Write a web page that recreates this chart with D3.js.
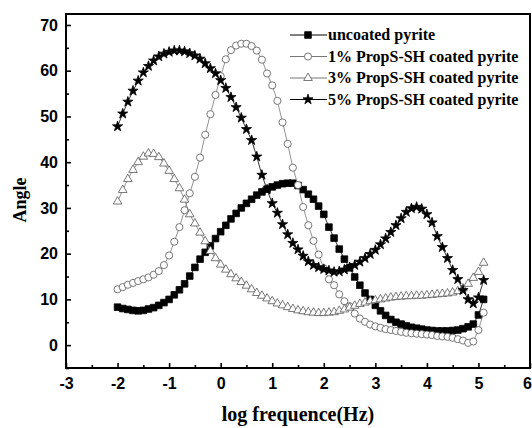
<!DOCTYPE html>
<html>
<head>
<meta charset="utf-8">
<script src="https://cdn.jsdelivr.net/npm/d3@7"></script>
<style>
  body { margin: 0; background: #fff; }
  svg { display: block; }
</style>
</head>
<body>
<div id="chart-view"></div>
<script>
const logF = [
    -2.0, -1.9, -1.8, -1.7, -1.6, -1.5, -1.4, -1.3, -1.2, -1.1,
    -1.0, -0.9, -0.8, -0.7, -0.6, -0.5, -0.4, -0.3, -0.2, -0.1,
    0.0, 0.1, 0.2, 0.3, 0.4, 0.5, 0.6, 0.7, 0.8, 0.9,
    1.0, 1.1, 1.2, 1.3, 1.4, 1.5, 1.6, 1.7, 1.8, 1.9,
    2.0, 2.1, 2.2, 2.3, 2.4, 2.5, 2.6, 2.7, 2.8, 2.9,
    3.0, 3.1, 3.2, 3.3, 3.4, 3.5, 3.6, 3.7, 3.8, 3.9,
    4.0, 4.1, 4.2, 4.3, 4.4, 4.5, 4.6, 4.7, 4.8, 4.9,
    5.0, 5.1
];

const uncoated = [
    8.3, 8.0, 7.8, 7.6, 7.5, 7.6, 7.9, 8.2, 8.7, 9.3,
    10.0, 11.0, 12.1, 13.4, 15.1, 17.0, 18.8, 20.3, 21.7, 23.3,
    24.8, 26.2, 27.6, 28.8, 30.0, 31.0, 31.9, 32.8, 33.5, 34.1,
    34.6, 35.0, 35.3, 35.4, 35.4, 34.9, 34.0, 33.0, 31.9, 30.4,
    28.6, 25.8, 23.4, 21.0, 18.8, 16.9, 14.9, 13.1, 11.4, 10.0,
    8.7, 7.5, 6.5, 5.6, 5.0, 4.6, 4.2, 3.9, 3.7, 3.5,
    3.3, 3.2, 3.1, 3.1, 3.1, 3.2, 3.3, 3.6, 4.0, 4.6,
    6.6, 10.0
];

const pct1 = [
    12.2, 12.7, 13.2, 13.6, 14.0, 14.4, 14.8, 15.4, 16.2, 17.5,
    19.6, 22.6, 25.8, 29.5, 33.2, 36.8, 41.0, 46.0, 50.5, 54.7,
    58.8, 62.5, 64.5, 65.5, 65.9, 65.9, 65.4, 64.4, 62.4, 59.4,
    56.8, 53.4, 48.7, 44.0, 38.8, 35.0, 30.2, 26.2, 22.8, 19.8,
    16.8, 14.4, 13.1, 11.1, 9.6, 8.5, 6.9, 5.8, 5.1, 4.5,
    4.1, 3.8, 3.5, 3.3, 3.1, 2.9, 2.7, 2.6, 2.5, 2.4,
    2.3, 2.2, 2.0, 1.9, 1.8, 1.6, 1.3, 1.0, 0.5, 0.8,
    3.3, 7.1
];

const pct3 = [
    31.4, 33.9, 36.3, 38.3, 40.0, 41.2, 41.9, 41.8, 41.1, 39.7,
    38.1, 36.3, 34.3, 31.8, 28.6, 26.6, 24.6, 22.7, 20.6, 19.0,
    17.6, 16.5, 15.5, 14.6, 13.8, 13.0, 12.2, 11.4, 10.8, 10.2,
    9.6, 9.1, 8.7, 8.3, 7.9, 7.6, 7.4, 7.2, 7.1, 7.0,
    7.0, 7.1, 7.2, 7.5, 7.8, 8.2, 8.6, 9.0, 9.3, 9.6,
    9.8, 10.0, 10.2, 10.4, 10.5, 10.6, 10.7, 10.7, 10.8, 10.8,
    10.9, 11.0, 11.1, 11.2, 11.3, 11.5, 11.8, 12.4, 13.4, 14.7,
    16.0, 18.0
];

const pct5 = [
    47.8, 50.6, 53.2, 55.6, 57.8, 59.6, 61.0, 62.2, 63.1, 63.7,
    64.1, 64.4, 64.4, 64.2, 63.8, 63.3, 62.6, 61.6, 60.5, 59.4,
    57.9, 56.2, 54.2, 52.0, 49.7, 47.2, 44.8, 41.2, 37.2, 34.0,
    31.0, 28.9, 26.4, 24.2, 22.3, 20.9, 19.5, 18.3, 17.5, 17.0,
    16.6, 16.3, 16.0, 16.1, 16.5, 17.0, 17.5, 18.2, 19.0, 19.9,
    20.8, 22.0, 23.3, 24.7, 26.2, 27.7, 29.1, 29.9, 30.2, 29.8,
    28.6, 26.8, 23.8, 21.4, 19.0, 16.4, 14.4, 12.0, 10.0, 9.1,
    10.4, 14.2
];

const seriesNames = [
    "uncoated pyrite",
    "1% PropS-SH coated pyrite",
    "3% PropS-SH coated pyrite",
    "5% PropS-SH coated pyrite",
];

const xTicks = [-3, -2, -1, 0, 1, 2, 3, 4, 5, 6];
const yTicks = [0, 10, 20, 30, 40, 50, 60, 70];

const width = 532, height = 428;
const margin = { left: 66, right: 530, top: 14, bottom: 368 };

const series = [
    { name: seriesNames[0], values: uncoated, symbol: d3.symbolSquare, size: 44, fill: "#000", stroke: "#000", line: "#000" },
    { name: seriesNames[1], values: pct1, symbol: d3.symbolCircle, size: 40, fill: "#fff", stroke: "#555", line: "#777" },
    { name: seriesNames[2], values: pct3, symbol: d3.symbolTriangle, size: 32, fill: "#fff", stroke: "#555", line: "#777" },
    { name: seriesNames[3], values: pct5, symbol: d3.symbolStar, size: 32, fill: "#000", stroke: "#000", line: "#000" },
];

let x = d3.scaleLinear().domain([-3, 6]).range([margin.left, margin.right]);
let y = d3.scaleLinear().domain([-5, 72.4]).range([margin.bottom, margin.top]);

let svg = d3.select("#chart-view")
            .append("svg")
            .attr("width", width)
            .attr("height", height);

// series lines and markers
let line = d3.line()
             .x((d) => x(d[0]))
             .y((d) => y(d[1]));

series.forEach((s) => {
    let pts = logF.map((f, i) => [f, s.values[i]]);
    svg.append("path")
       .attr("d", line(pts))
       .attr("fill", "none")
       .attr("stroke", s.line)
       .attr("stroke-width", 0.8);
    svg.append("g")
       .selectAll("path")
       .data(pts)
       .enter()
       .append("path")
       .attr("transform", (d) => `translate(${x(d[0])},${y(d[1])})`)
       .attr("d", d3.symbol().type(s.symbol).size(s.size))
       .attr("fill", s.fill)
       .attr("stroke", s.stroke)
       .attr("stroke-width", 0.8);
});

// axes, ticks inside; plain hyphen for negatives like the original
let xAxis = d3.axisBottom(x).tickValues(xTicks).tickSize(-5).tickPadding(10).tickFormat((d) => String(d));
let xMinor = d3.axisBottom(x).tickValues(xTicks.slice(0, -1).map((d) => d + 0.5)).tickSize(-3).tickFormat("");
let yAxis = d3.axisLeft(y).tickValues(yTicks).tickSize(-5).tickPadding(8).tickFormat((d) => String(d));
let yMinor = d3.axisLeft(y).tickValues(yTicks.map((d) => d + 5).concat([-5]).filter((d) => d < 72)).tickSize(-3).tickFormat("");

let xAxisG = svg.append("g").attr("transform", `translate(0,${margin.bottom})`).call(xAxis);

[
    xAxisG,
    svg.append("g").attr("transform", `translate(0,${margin.bottom})`).call(xMinor),
    svg.append("g").attr("transform", `translate(${margin.left},0)`).call(yAxis),
    svg.append("g").attr("transform", `translate(${margin.left},0)`).call(yMinor),
].forEach((g) => {
    g.select(".domain").remove();
    g.selectAll(".tick line").attr("stroke", "#000").attr("stroke-width", 1.6);
    g.selectAll(".tick text")
     .attr("fill", "#000")
     .style("font-family", "'Liberation Sans', Arial, sans-serif")
     .style("font-weight", "bold")
     .style("font-size", "16px");
});

// last label sits on the window edge; nudge it in
xAxisG.selectAll(".tick text").filter((d) => d === 6).attr("dx", -3);

svg.append("rect")
   .attr("x", margin.left)
   .attr("y", margin.top)
   .attr("width", margin.right - margin.left)
   .attr("height", margin.bottom - margin.top)
   .attr("fill", "none")
   .attr("stroke", "#000")
   .attr("stroke-width", 2);

// axis titles
svg.append("text")
   .attr("x", 298)
   .attr("y", 421)
   .attr("text-anchor", "middle")
   .style("font-family", "'Liberation Serif', 'Times New Roman', serif")
   .style("font-weight", "bold")
   .style("font-size", "20px")
   .text("log frequence(Hz)");

svg.append("text")
   .attr("transform", "translate(26,200) rotate(-90)")
   .attr("text-anchor", "middle")
   .style("font-family", "'Liberation Serif', 'Times New Roman', serif")
   .style("font-weight", "bold")
   .style("font-size", "18px")
   .text("Angle");

// legend
let legend = svg.append("g")
                .selectAll("g")
                .data(series)
                .enter()
                .append("g")
                .attr("transform", (d, i) => `translate(290,${35 + i * 21.5})`);

legend.append("line")
      .attr("x1", 0)
      .attr("x2", 37)
      .attr("stroke", (d) => d.line)
      .attr("stroke-width", 1);

legend.append("path")
      .attr("transform", "translate(18,0)")
      .attr("d", (d) => d3.symbol().type(d.symbol).size(d.size)())
      .attr("fill", (d) => d.fill)
      .attr("stroke", (d) => d.stroke)
      .attr("stroke-width", 0.8);

legend.append("text")
      .attr("x", 38)
      .attr("y", 5)
      .style("font-family", "'Liberation Serif', 'Times New Roman', serif")
      .style("font-weight", "bold")
      .style("font-size", "16px")
      .text((d) => d.name);
</script>
</body>
</html>
